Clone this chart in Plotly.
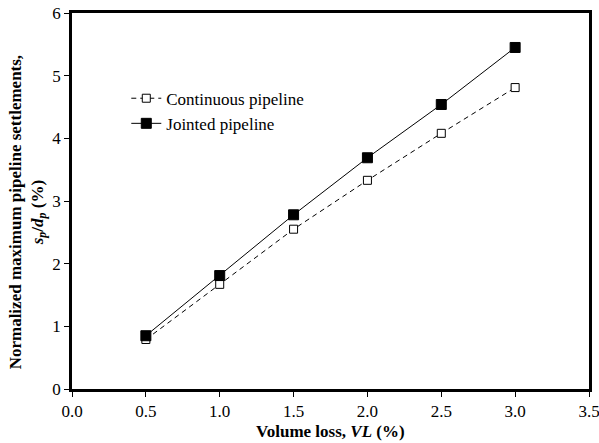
import plotly.graph_objects as go

volume_loss = [0.5, 1.0, 1.5, 2.0, 2.5, 3.0]
continuous = [0.79, 1.67, 2.55, 3.33, 4.08, 4.81]
jointed = [0.85, 1.81, 2.78, 3.69, 4.54, 5.45]
x_ticks = [0, 0.5, 1.0, 1.5, 2.0, 2.5, 3.0, 3.5]
x_tick_labels = ["0.0", "0.5", "1.0", "1.5", "2.0", "2.5", "3.0", "3.5"]
y_ticks = [0, 1, 2, 3, 4, 5, 6]

FONT = "Liberation Serif, Times New Roman, serif"
FS = 17

fig = go.Figure()
fig.add_trace(go.Scatter(
    x=volume_loss, y=continuous, mode="lines+markers",
    name="Continuous pipeline",
    line=dict(color="black", width=1, dash="5px,4px"),
    marker=dict(symbol="square", size=8, color="white", line=dict(color="black", width=1)),
))
fig.add_trace(go.Scatter(
    x=volume_loss, y=jointed, mode="lines+markers",
    name="Jointed pipeline",
    line=dict(color="black", width=1),
    marker=dict(symbol="square", size=10, color="black", line=dict(color="black", width=1)),
))

fig.update_layout(
    width=599, height=443,
    margin=dict(l=72, r=10, t=13, b=54, autoexpand=False),
    paper_bgcolor="white", plot_bgcolor="white",
    font=dict(family=FONT, size=FS, color="black"),
    showlegend=True,
    legend=dict(x=0.105, y=0.82, xanchor="left", yanchor="top",
                bgcolor="rgba(0,0,0,0)", font=dict(size=FS, family=FONT),
                tracegroupgap=0, itemwidth=30),
    annotations=[
        dict(text="<b>Normalized maximum pipeline settlements,<br><i>s<sub>p</sub></i>/<i>d<sub>p</sub></i> (%)</b>",
             xref="paper", yref="paper", x=-0.085, y=0.47, xanchor="center", yanchor="middle",
             textangle=-90, showarrow=False, font=dict(size=FS, family=FONT)),
        dict(text="<b>Volume loss, <i>VL</i> (%)</b>",
             xref="paper", yref="paper", x=0.5, y=-0.112, xanchor="center", yanchor="middle",
             showarrow=False, font=dict(size=FS, family=FONT)),
    ],
)
fig.update_xaxes(
    range=[0, 3.5], tickvals=x_ticks, ticktext=x_tick_labels,
    showgrid=False, zeroline=False, automargin=False, ticklabeloverflow="allow",
    showline=True, linecolor="black", linewidth=2.5, mirror=True,
    ticks="outside", ticklen=5, tickwidth=1.2, tickcolor="black",
)
fig.update_yaxes(
    range=[0, 6], tickvals=y_ticks,
    showgrid=False, zeroline=False, automargin=False, ticklabeloverflow="allow",
    showline=True, linecolor="black", linewidth=2.5, mirror=True,
    ticks="outside", ticklen=5, tickwidth=1.2, tickcolor="black",
)

fig.write_html("out.html")
